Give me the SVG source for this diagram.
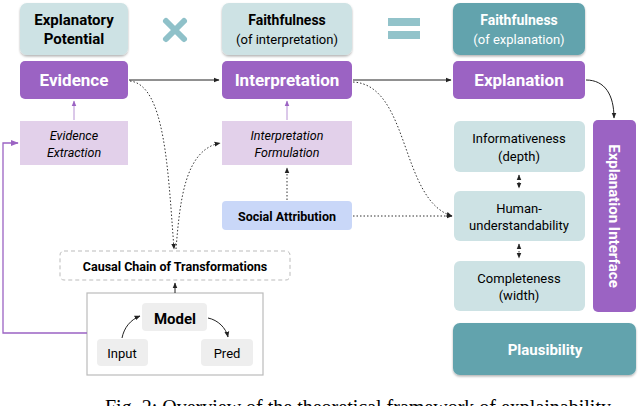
<svg xmlns="http://www.w3.org/2000/svg" width="640" height="406" viewBox="0 0 640 406">
<style>
text{font-family:Roboto,"Liberation Sans",sans-serif;text-anchor:middle}
.b{font-weight:bold}
.top{fill:#cde2e4}
.pur{fill:#9b63c3}
.lp{fill:#e2d0ea}
.tl{fill:#cde2e4}
.w{fill:#fff}
.c{stroke:#222;stroke-width:1;fill:none}
.d{stroke:#333;stroke-width:1;fill:none;stroke-dasharray:1.5 2}
.g{fill:#eeeeee}
</style>
<defs>
<marker id="a" viewBox="0 0 10 10" refX="9" refY="5" markerWidth="6" markerHeight="6" orient="auto-start-reverse"><path d="M0,1L10,5L0,9z" fill="#222"/></marker>
<marker id="ap" viewBox="0 0 10 10" refX="9" refY="5" markerWidth="6" markerHeight="6" orient="auto"><path d="M0,1L10,5L0,9z" fill="#9b63c3"/></marker>
<filter id="s" x="-10%" y="-10%" width="120%" height="130%"><feDropShadow dx="0" dy="1.5" stdDeviation="1.2" flood-opacity="0.3"/></filter>
</defs>
<g id="ep"><rect x="20" y="3" width="108" height="52" rx="7" class="top" filter="url(#s)"/><text x="74" y="25" class="b" font-size="15">Explanatory</text><text x="74" y="44" class="b" font-size="15">Potential</text></g>
<g id="times"><path d="M166,21L184,39M184,21L166,39" stroke="#8fc1c9" stroke-width="6" stroke-linecap="round"/></g>
<g id="fi"><rect x="222" y="3" width="130" height="52" rx="7" class="top" filter="url(#s)"/><text x="287" y="25" class="b" font-size="14">Faithfulness</text><text x="287" y="44" font-size="13">(of interpretation)</text></g>
<g id="eq"><rect x="388" y="18" width="32" height="8" fill="#92c3ca"/><rect x="388" y="31" width="32" height="8" fill="#92c3ca"/></g>
<g id="fe"><rect x="453" y="3" width="132" height="52" rx="7" fill="#62a3ad" filter="url(#s)"/><text x="519" y="25" class="b w" font-size="14">Faithfulness</text><text x="519" y="44" class="w" font-size="13">(of explanation)</text></g>
<g id="evidence"><rect x="20" y="61" width="108" height="38" rx="5" class="pur"/><text x="74" y="86" class="b w" font-size="17">Evidence</text></g>
<g id="interpretation"><rect x="222" y="61" width="130" height="38" rx="5" class="pur"/><text x="287" y="86" class="b w" font-size="17">Interpretation</text></g>
<g id="explanation"><rect x="453" y="61" width="132" height="38" rx="5" class="pur"/><text x="519" y="86" class="b w" font-size="17">Explanation</text></g>
<g id="extraction"><rect x="20" y="121" width="108" height="44" class="lp"/><text x="74" y="140" font-size="12.5" font-style="italic">Evidence</text><text x="74" y="157" font-size="12.5" font-style="italic">Extraction</text></g>
<g id="formulation"><rect x="222" y="121" width="130" height="44" class="lp"/><text x="287" y="140" font-size="12.5" font-style="italic">Interpretation</text><text x="287" y="157" font-size="12.5" font-style="italic">Formulation</text></g>
<g id="social"><rect x="222" y="201" width="130" height="29" rx="4" fill="#c9d7f8"/><text x="287" y="221" class="b" font-size="12.5">Social Attribution</text></g>
<g id="causal"><rect x="60" y="251" width="230" height="29" rx="4" fill="#fff" stroke="#bbb" stroke-dasharray="4 3"/><text x="175" y="271" class="b" font-size="12.5">Causal Chain of Transformations</text></g>
<g id="modelbox"><rect x="87" y="293" width="176" height="82" fill="#fff" stroke="#bbb" stroke-width="1.2"/></g>
<g id="model"><rect x="142" y="303" width="65" height="28" rx="4" class="g"/><text x="175" y="324" class="b" font-size="15">Model</text></g>
<g id="input"><rect x="97" y="339" width="51" height="27" rx="4" class="g"/><text x="122" y="358" font-size="13">Input</text></g>
<g id="pred"><rect x="201" y="339" width="52" height="27" rx="4" class="g"/><text x="227" y="358" font-size="13">Pred</text></g>
<g id="informativeness"><rect x="454" y="121" width="131" height="51" rx="6" class="tl"/><text x="519" y="143" font-size="13">Informativeness</text><text x="519" y="161" font-size="13">(depth)</text></g>
<g id="human"><rect x="454" y="191" width="131" height="50" rx="6" class="tl"/><text x="519" y="213" font-size="13">Human-</text><text x="519" y="230" font-size="13">understandability</text></g>
<g id="completeness"><rect x="454" y="261" width="131" height="50" rx="6" class="tl"/><text x="519" y="283" font-size="13">Completeness</text><text x="519" y="300" font-size="13">(width)</text></g>
<g id="interface"><rect x="593" y="120" width="43" height="192" rx="5" class="pur"/><text transform="translate(609,216) rotate(90)" class="b w" font-size="15">Explanation Interface</text></g>
<g id="plausibility"><rect x="453" y="323" width="183" height="52" rx="7" fill="#62a3ad" filter="url(#s)"/><text x="545" y="355" class="b w" font-size="15">Plausibility</text></g>
<g id="connectors">
<path d="M129,80H219" class="c" marker-end="url(#a)"/>
<path d="M353,80H451" class="c" marker-end="url(#a)"/>
<path d="M586,80C605,80 614,95 614,118" class="c" marker-end="url(#a)"/>
<path d="M74,120V101" stroke="#b792d4" fill="none" marker-end="url(#ap)"/>
<path d="M287,120V101" stroke="#b792d4" fill="none" marker-end="url(#ap)"/>
<path d="M87,333H3V143H18" stroke="#9b63c3" stroke-width="1.3" fill="none" marker-end="url(#ap)"/>
<path d="M130,81C165,85 168,170 174,249" class="d" marker-end="url(#a)"/>
<path d="M176,249C180,200 185,150 220,143" class="d" marker-end="url(#a)"/>
<path d="M353,82C410,85 400,200 452,216" class="d" marker-end="url(#a)"/>
<path d="M353,216H452" class="d" marker-end="url(#a)"/>
<path d="M287,200V168" class="d" marker-end="url(#a)"/>
<path d="M519,175V188" class="d" marker-start="url(#a)" marker-end="url(#a)"/>
<path d="M519,244V258" class="d" marker-start="url(#a)" marker-end="url(#a)"/>
<path d="M175,293V283" class="c" marker-end="url(#a)"/>
<path d="M122,338C124,328 130,320 140,316" class="c" marker-end="url(#a)"/>
<path d="M208,318C218,320 226,328 228,337" class="c" marker-end="url(#a)"/>
</g>
<text x="105" y="414" font-size="20" style="font-family:'Liberation Serif',serif;text-anchor:start">Fig. 2: Overview of the theoretical framework of explainability</text>
</svg>
